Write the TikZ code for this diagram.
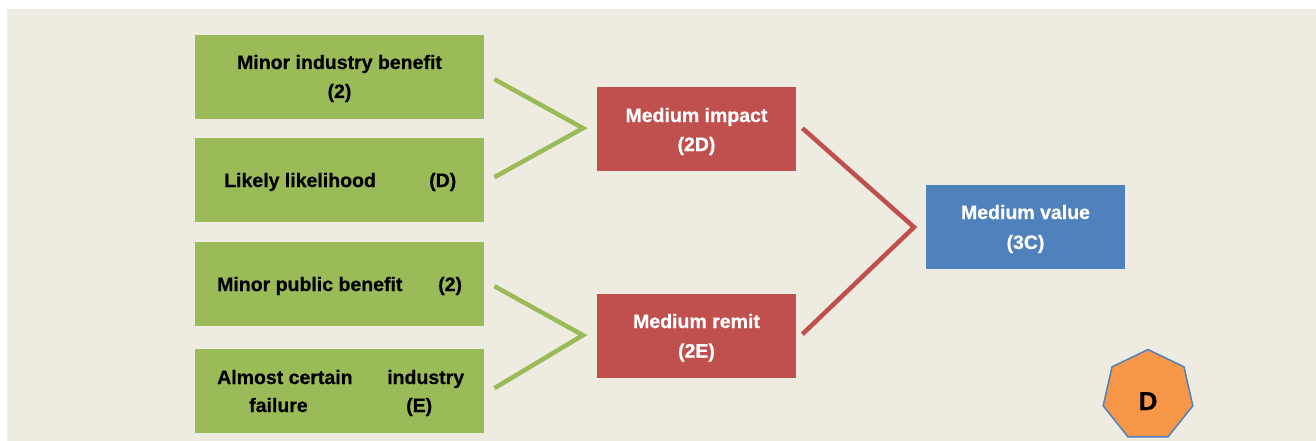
\documentclass[tikz,border=0pt]{standalone}
\usepackage{fontspec}
\setmainfont{Liberation Sans}[BoldFeatures={FakeBold=0.6}]
\usetikzlibrary{shapes.geometric,calc}
\definecolor{bgtan}{HTML}{EEECE1}
\definecolor{boxgreen}{HTML}{9BBB59}
\definecolor{boxred}{HTML}{C0504D}
\definecolor{boxblue}{HTML}{4F81BD}
\definecolor{heptorange}{HTML}{F79646}
\tikzset{
  gbox/.style={fill=boxgreen, minimum width=289pt, minimum height=84pt, inner sep=0pt, anchor=north west},
  rbox/.style={fill=boxred, minimum width=199pt, minimum height=84pt, inner sep=0pt, anchor=north west},
  bbox/.style={fill=boxblue, minimum width=199pt, minimum height=84pt, inner sep=0pt, anchor=north west},
  txt/.style={font=\bfseries\fontsize{19.5}{29}\selectfont, inner sep=0pt, text=black},
  wtxt/.style={txt, text=white, anchor=base},
  gline/.style={draw=boxgreen, line width=4.5pt},
  rline/.style={draw=boxred, line width=4.5pt},
}
\begin{document}
\begin{tikzpicture}[x=1pt,y=-1pt]
\useasboundingbox (0,0) rectangle (1316,441);
\fill[white] (0,0) rectangle (1316,441);
\fill[bgtan] (7,9) rectangle (1316,441);

% green boxes
\node[gbox] (g1) at (195,35) {};
\node[gbox] (g2) at (195,138) {};
\node[gbox] (g3) at (195,242) {};
\node[gbox] (g4) at (195,349) {};

\node[txt, anchor=base] (g1a) at (339.5,69) {Minor industry benefit};
\node[txt, anchor=base] (g1b) at (339.5,98) {(2)};
\node[txt, anchor=base west] (g2a) at (224,187) {Likely likelihood};
\node[txt, anchor=base west] (g2b) at (429,187) {(D)};
\node[txt, anchor=base west] (g3a) at (217,291) {Minor public benefit};
\node[txt, anchor=base west] (g3b) at (438,291) {(2)};
\node[txt, anchor=base west] (g4a) at (217,384) {Almost certain};
\node[txt, anchor=base west] (g4b) at (387,384) {industry};
\node[txt, anchor=base west] (g4c) at (249,412) {failure};
\node[txt, anchor=base west] (g4d) at (406,412) {(E)};

% red boxes
\node[rbox] (r1) at (597,87) {};
\node[rbox] (r2) at (597,294) {};
\node[wtxt] (r1a) at (696.5,122) {Medium impact};
\node[wtxt] (r1b) at (696.5,151) {(2D)};
\node[wtxt] (r2a) at (696.5,328) {Medium remit};
\node[wtxt] (r2b) at (696.5,357.5) {(2E)};

% blue box
\node[bbox] (b1) at (926,185) {};
\node[wtxt] (b1a) at (1025.5,219) {Medium value};
\node[wtxt] (b1b) at (1025.5,249) {(3C)};

% junctions
\coordinate (j1) at ($(r1.west)+(-14,-1)$);
\coordinate (j2) at ($(r2.west)+(-14,-1)$);
\coordinate (j3) at ($(b1.west)+(-12,0)$);

\draw[gline] ([shift={(10,2)}]g1.east) -- (j1) -- ([shift={(10,-3)}]g2.east);
\draw[gline] ([shift={(10,2)}]g3.east) -- (j2) -- ([shift={(10,-3)}]g4.east);
\draw[rline] ([shift={(6,-1)}]r1.east) -- (j3) -- ([shift={(6,-2)}]r2.east);

% heptagon
\node[regular polygon, regular polygon sides=7, minimum size=92pt, inner sep=0pt,
      fill=heptorange, draw=boxblue, line width=1.5pt] (hep) at (1148,395.5) {};
\node[font=\bfseries\fontsize{26}{30}\selectfont, inner sep=0pt, anchor=base] (hepd) at (1148,410) {D};
\end{tikzpicture}
\end{document}
